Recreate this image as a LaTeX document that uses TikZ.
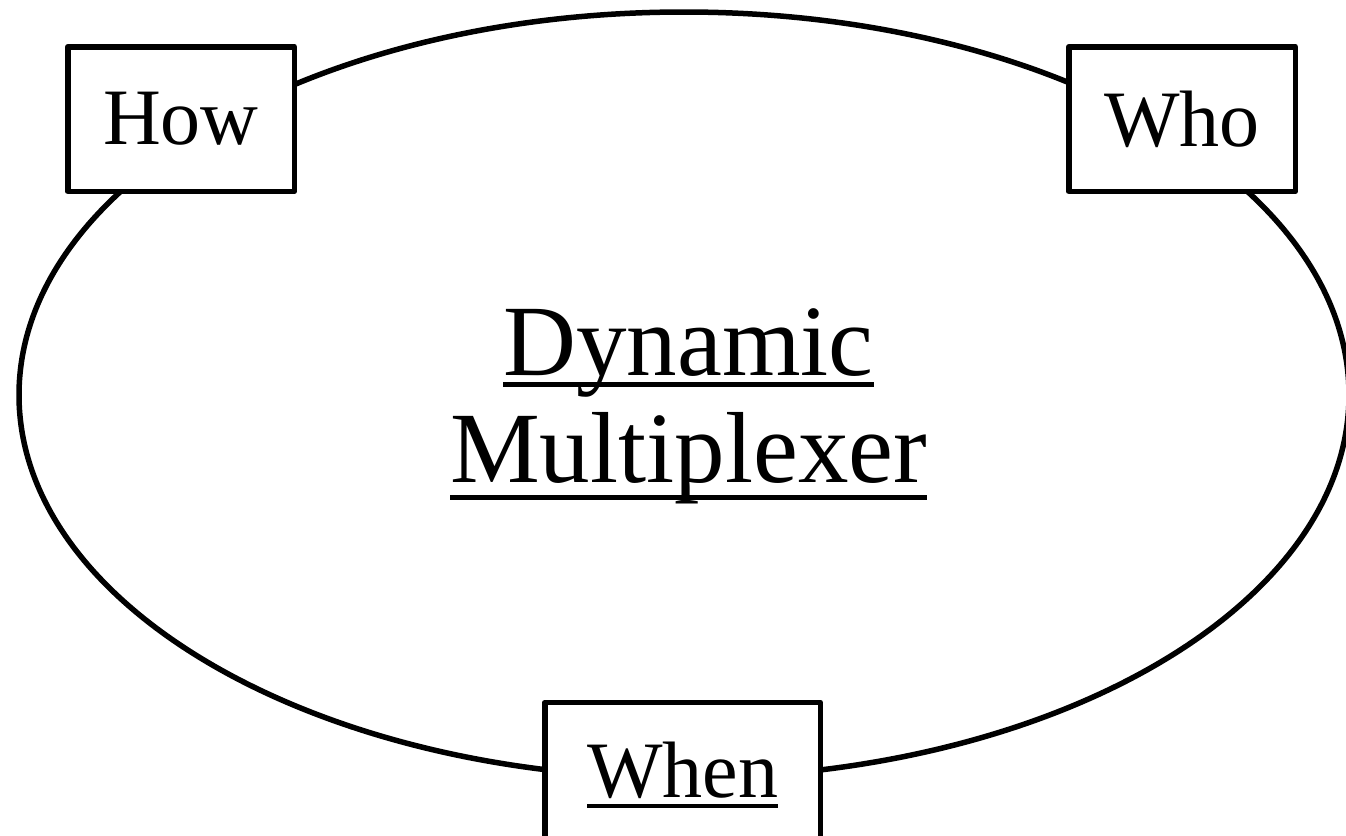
\documentclass[tikz,border=0pt]{standalone}
\usepackage{fontspec}
\setmainfont{Liberation Serif}
% underline at a fixed drop below the baseline: #1 drop of rule bottom, #2 thickness, #3 text
\newcommand{\wordline}[3]{\leavevmode\setbox0\hbox{#3}\rlap{\smash{\rule[-#1]{\wd0}{#2}}}\box0}
\tikzset{
  ring/.style={draw, line width=5.5pt},
  tagbox/.style={draw, line width=5.5pt, line join=round, fill=white,
    minimum width=226.5pt, minimum height=144.5pt, inner sep=0pt,
    font=\fontsize{80}{96}\selectfont},
  title/.style={align=center, inner sep=0pt, text height=175pt, text depth=0pt,
    font=\fontsize{101}{107}\selectfont}
}
\begin{document}
\begin{tikzpicture}[x=1pt, y=-1pt]
  \useasboundingbox (0,0) rectangle (1346,835);
  \clip (0,0) rectangle (1346,835);
  % the ring
  \draw[ring] (684,395) ellipse [x radius=665pt, y radius=383pt];
  % centre label
  \node[title] (mux) at (688.5,394.5)
    {\wordline{11.5pt}{5pt}{Dynamic}\\\wordline{17.5pt}{5pt}{Multiplexer}};
  % boxes sitting on the ring
  \node[tagbox] (how) at (181,119) {How};
  \node[tagbox] (who) at (1182,119) {Who};
  \node[tagbox, minimum width=275.5pt, minimum height=136pt] (when) at (682.5,770.5)
    {\wordline{10pt}{4pt}{When}};
\end{tikzpicture}
\end{document}
